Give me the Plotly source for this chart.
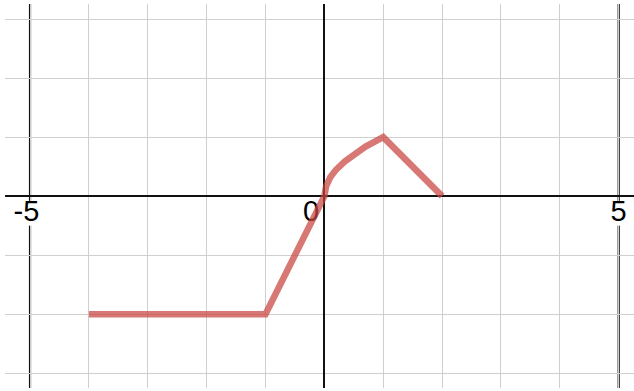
import plotly.graph_objects as go

# piecewise curve
curve_x = [-4, -1, 0, 0.03, 0.1, 0.2, 0.35, 0.5, 0.7, 0.85, 1, 2]
curve_y = [-2, -2, 0, 0.17, 0.32, 0.45, 0.59, 0.71, 0.84, 0.92, 1, 0]

tick_text = ["-5", "0", "5"]
tick_xpos = [-5.06, -0.227, 4.996]
label_y = -0.294
# white boxes behind tick labels (x0, x1)
label_box = [(-5.272, -4.847), (-0.363, -0.091), (4.852, 5.141)]

fig = go.Figure()

# dark vertical lines at x = -5 and x = 5
for v in [-5, 5]:
    fig.add_shape(type='line', xref='x', yref='paper', x0=v, x1=v, y0=0, y1=1,
                  line=dict(color='#111', width=2.2), layer='between')
for x0, x1 in label_box:
    fig.add_shape(type='rect', xref='x', yref='y', x0=x0, x1=x1, y0=-0.08, y1=-0.5,
                  fillcolor='white', line=dict(width=0), layer='between')

fig.add_trace(go.Scatter(
    x=tick_xpos, y=[label_y] * 3, mode='text', text=tick_text,
    textfont=dict(family='Liberation Sans Narrow, Liberation Sans, Arial', size=29, color='black'),
    textposition='middle center', hoverinfo='skip', showlegend=False
))
fig.add_trace(go.Scatter(
    x=curve_x, y=curve_y, mode='lines',
    line=dict(color='rgba(199,68,64,0.72)', width=6.5),
    hoverinfo='skip', showlegend=False
))

fig.update_layout(
    width=634, height=391, showlegend=False,
    plot_bgcolor='white', paper_bgcolor='white',
    margin=dict(l=5, r=0, t=4, b=3, autoexpand=False),
)
fig.update_xaxes(range=[-5.425, 5.26], dtick=1, tick0=0, showticklabels=False,
                 gridcolor='#cfcfcf', gridwidth=1.2,
                 zeroline=True, zerolinecolor='#111', zerolinewidth=2, showline=False)
fig.update_yaxes(range=[-3.25, 3.255], dtick=1, tick0=0, showticklabels=False,
                 gridcolor='#cfcfcf', gridwidth=1.2,
                 zeroline=True, zerolinecolor='#111', zerolinewidth=2, showline=False)

fig.write_html("out.html", config={'displayModeBar': False},
               post_script="document.body.style.margin='0';")
